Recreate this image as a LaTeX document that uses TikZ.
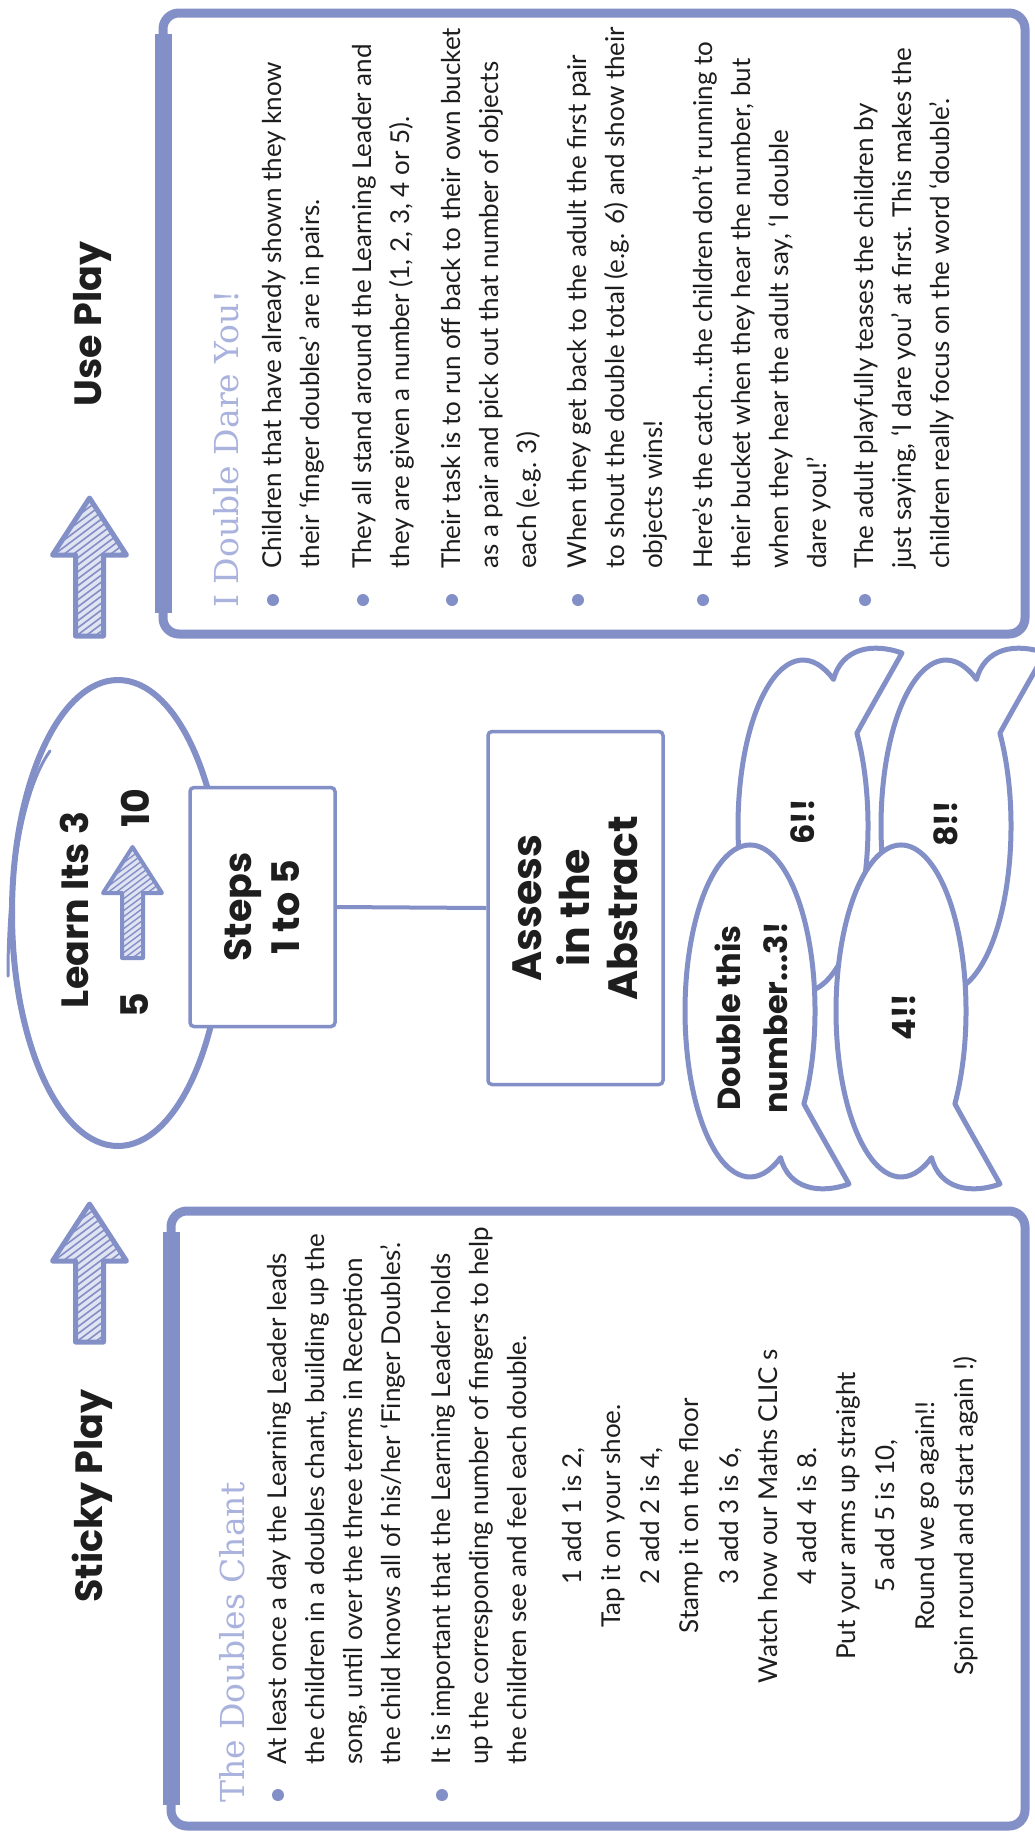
\documentclass[tikz,border=0pt]{standalone}
\usepackage{fontspec}
\setmainfont{Lato}
\newfontfamily\hfont{Poppins}
\newfontfamily\tfont{DejaVu Serif}
\newfontfamily\bfont{Lato}
\usetikzlibrary{shapes.geometric}
\definecolor{lav}{RGB}{131,143,199}
\definecolor{lavlt}{RGB}{170,178,222}
\definecolor{ink}{RGB}{30,30,30}
\tikzset{
  head/.style={rotate=90, font=\hfont\bfseries\fontsize{38}{48}\selectfont, text=ink, inner sep=0pt, align=center},
  btxt/.style={rotate=90, font=\hfont\bfseries\fontsize{32}{47}\selectfont, text=ink, inner sep=0pt, align=center},
  para/.style={rotate=90, anchor=north west, inner sep=0pt, align=left, font=\bfont\fontsize{26}{38}\selectfont, text=ink},
  chant/.style={rotate=90, anchor=center, inner sep=0pt, align=center, font=\bfont\fontsize{26}{39.2}\selectfont, text=ink},
  ttl/.style={rotate=90, anchor=base west, inner sep=0pt, font=\tfont\fontsize{33}{38}\selectfont, text=lavlt},
  dot/.style={circle, fill=lav, minimum size=12pt, inner sep=0pt},
  panel/.style={draw=lav, line width=9pt, rounded corners=16pt},
  sidebar/.style={draw=lav, line width=17pt},
  stepbox/.style={rotate=90, draw=lav, fill=white, line width=3.5pt, rounded corners=4pt, inner sep=0pt, align=center, font=\hfont\bfseries\fontsize{38}{48}\selectfont, text=ink},
  bub/.style={draw=lav, fill=white, line width=5pt, line join=round},
  pics/bigarrow/.style={code={
    \begin{scope}
      \clip (0,0) -- (37,-57) -- (14,-57) -- (14,-138) -- (-14,-138) -- (-14,-57) -- (-37,-57) -- cycle;
      \fill[lav!25] (-40,-140) rectangle (40,2);
      \foreach \k in {0,...,32} \draw[lav, line width=1.6pt] (-40,{-200+\k*7}) -- ++(80,60);
    \end{scope}
    \draw[lav, line width=5pt, line join=round] (0,0) -- (37,-57) -- (14,-57) -- (14,-138) -- (-14,-138) -- (-14,-57) -- (-37,-57) -- cycle;
  }},
  pics/smallarrow/.style={code={
    \begin{scope}
      \clip (0,0) -- (29.5,-46) -- (10.5,-46) -- (10.5,-111) -- (-10.5,-111) -- (-10.5,-46) -- (-29.5,-46) -- cycle;
      \fill[lav!25] (-32,-113) rectangle (32,2);
      \foreach \k in {0,...,26} \draw[lav, line width=1.4pt] (-32,{-165+\k*6}) -- ++(64,48);
    \end{scope}
    \draw[lav, line width=4pt, line join=round] (0,0) -- (29.5,-46) -- (10.5,-46) -- (10.5,-111) -- (-10.5,-111) -- (-10.5,-46) -- (-29.5,-46) -- cycle;
  }},
  pics/bubble/.style={code={
    \filldraw[bub] (-92.8,-53.9) arc[start angle=236, end angle=568, x radius=166, y radius=65]
      .. controls (-179,-39) and (-183,-71) .. (-173,-99)
      .. controls (-141,-81) and (-108,-62) .. cycle;
  }}
}
\begin{document}
\begin{tikzpicture}[x=1pt,y=1pt]
\useasboundingbox (0,0) rectangle (1034,-1834);
\fill[white] (0,0) rectangle (1034,-1834);

% panels
\draw[panel] (163,-13) rectangle (1025,-634);
\draw[sidebar] (163,-34) -- (163,-613);
\draw[panel] (171,-1211) rectangle (1025,-1826);
\draw[sidebar] (171,-1232) -- (171,-1805);

% headings and arrows
\node[head] (useplay) at (92,-324) {Use Play};
\node[head] (sticky) at (92,-1496) {Sticky Play};
\pic at (89.5,-498) {bigarrow};
\pic at (89.5,-1204) {bigarrow};

% Learn its 3 ellipse
\node[ellipse, draw=lav, line width=6pt, minimum width=212pt, minimum height=466pt, inner sep=0pt] (learn) at (118,-913) {};
\draw[lav, line width=3pt, line cap=round] (50,-751) .. controls (22,-790) and (8,-880) .. (8,-976);
\node[head] (learntxt) at (74,-910) {Learn Its 3};
\node[head] (five) at (135,-1005) {5};
\node[head] (ten) at (135,-808) {10};
\pic at (132.5,-847) {smallarrow};

% steps and assess
\node[stepbox, minimum width=239pt, minimum height=145pt] (steps) at (262.5,-907) {Steps\\1 to 5};
\node[stepbox, minimum width=353pt, minimum height=175pt, font=\hfont\bfseries\fontsize{41}{48}\selectfont] (assess) at (575.5,-908) {Assess\\in the\\Abstract};
\draw[lav, line width=4pt] (steps.south) -- (assess.north);

% bubbles
\pic[rotate=90, xscale=-1] at (803,-826) {bubble};
\pic[rotate=90, xscale=-1] at (946,-826) {bubble};
\pic[rotate=90] at (750,-1011) {bubble};
\pic[rotate=90] at (901,-1011) {bubble};
\node[btxt] (q) at (751,-1018) {Double this\\number...3!};
\node[btxt] (a6) at (803,-822) {6!!};
\node[btxt] (a4) at (904,-1017) {4!!};
\node[btxt] (a8) at (946,-824) {8!!};

% Use Play panel text
\node[ttl] (t1) at (238,-608) {I Double Dare You!};
\node[dot] (d1) at (273,-600) {};
\node[dot] (d2) at (363,-600) {};
\node[dot] (d3) at (452,-600) {};
\node[dot] (d4) at (578,-600) {};
\node[dot] (d5) at (703,-600) {};
\node[dot] (d6) at (865,-600) {};
\node[para] (p1) at (262,-569) {Children that have already shown they know\\their ‘finger doubles’ are in pairs.};
\node[para] (p2) at (352,-569) {They all stand around the Learning Leader and\\they are given a number (1, 2, 3, 4 or 5).};
\node[para] (p3) at (441,-569) {Their task is to run off back to their own bucket\\as a pair and pick out that number of objects\\each (e.g. 3)};
\node[para] (p4) at (567,-569) {When they get back to the adult the first pair\\to shout the double total (e.g. 6) and show their\\objects wins!};
\node[para] (p5) at (692,-569) {Here’s the catch...the children don’t running to\\their bucket when they hear the number, but\\when they hear the adult say, ‘I double\\dare you!’};
\node[para] (p6) at (854,-569) {The adult playfully teases the children by\\just saying, ‘I dare you’ at first. This makes the\\children really focus on the word ‘double’.};

% Sticky Play panel text
\node[ttl] (t2) at (244,-1803) {The Doubles Chant};
\node[dot] (e1) at (278,-1795) {};
\node[dot] (e2) at (442,-1795) {};
\node[para] (q1) at (267,-1765) {At least once a day the Learning Leader leads\\the children in a doubles chant, building up the\\song, until over the three terms in Reception\\the child knows all of his/her ‘Finger Doubles’.};
\node[para] (q2) at (431,-1765) {It is important that the Learning Leader holds\\up the corresponding number of fingers to help\\the children see and feel each double.};
\node[chant] (song) at (770,-1516) {1 add 1 is 2,\\Tap it on your shoe.\\2 add 2 is 4,\\Stamp it on the floor\\3 add 3 is 6,\\Watch how our Maths CLIC s\\4 add 4 is 8.\\Put your arms up straight\\5 add 5 is 10,\\Round we go again!!\\Spin round and start again !)};
\end{tikzpicture}
\end{document}
